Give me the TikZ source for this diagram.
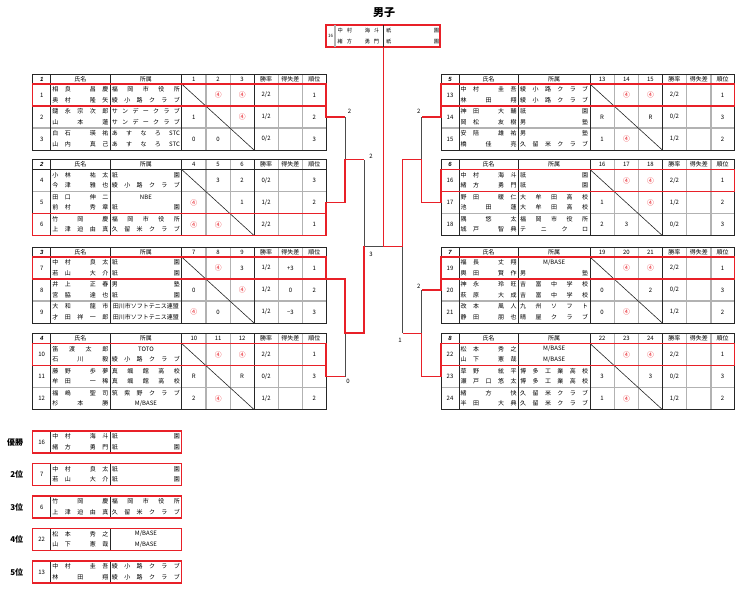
\documentclass[tikz,border=0pt]{standalone}
\usepackage{fontspec}
\setmainfont{Noto Sans CJK JP}
\newfontfamily\grpfont{Liberation Sans}
\usepackage{tikz}

\definecolor{wred}{RGB}{232,32,40}
\newcommand{\wn}{\textcolor{wred}{\fontsize{6.8}{7}\selectfont ④}}
\newcommand{\nm}[1]{\makebox[56pt][s]{#1}}
\newcommand{\af}[1]{\makebox[68pt][s]{#1}}
\newcommand{\ctr}[1]{\hfil#1\hfil}

\newcommand{\tbl}[4]{%
  \draw[sep] (0,32) -- (293.3,32) (0,54) -- (293.3,54);
  \draw[sep] (173.3,0) -- (173.3,76) (197.6,0) -- (197.6,76) (245.6,0) -- (245.6,76) (269.9,0) -- (269.9,76);
  \draw[rule] (0,10) -- (293.3,10) (18,0) -- (18,76) (77.3,0) -- (77.3,76) (149,0) -- (149,76) (221.3,0) -- (221.3,76);
  \draw[rule] (149,10) -- (221.3,76);
  \draw[frame] (0,0) rectangle (293.3,76);
  \node[txt] at (9,5) {\grpfont\bfseries\itshape #1};
  \node[txt] at (47.65,5) {氏名};
  \node[txt] at (113.15,5) {所属};
  \node[txt] at (161.15,5) {#2};
  \node[txt] at (185.45,5) {#3};
  \node[txt] at (209.45,5) {#4};
  \node[txt] at (233.45,5) {勝率};
  \node[txt] at (257.75,5) {得失差};
  \node[txt] at (281.6,5) {順位};
}
\newcommand{\plr}[6]{%
  \node[txt] at (9,{#1+11}) {#2};
  \node[txt,anchor=west] at (19.5,{#1+5.5}) {\nm{#3}};
  \node[txt,anchor=west] at (19.5,{#1+16}) {\nm{#4}};
  \node[txt,anchor=west] at (79,{#1+5.5}) {\af{#5}};
  \node[txt,anchor=west] at (79,{#1+16}) {\af{#6}};
}
\newcommand{\res}[7]{%
  \node[txt] at (161.15,{#1+11}) {#2};
  \node[txt] at (185.45,{#1+11}) {#3};
  \node[txt] at (209.45,{#1+11}) {#4};
  \node[txt] at (233.45,{#1+11}) {#5};
  \node[txt] at (257.75,{#1+11}) {#6};
  \node[txt] at (281.6,{#1+11}) {#7};
}
\newcommand{\fin}[7]{%
  \begin{scope}[shift={(32.7,#1)}]
    \draw[rule] (18,0) -- (18,22) (77.3,0) -- (77.3,22);
    \draw[win] (0,0) rectangle (149,22);
    \node[lbl] at (-6,11) {#2};
    \node[txt] at (9,11) {#3};
    \node[txt,anchor=west] at (19.5,5.5) {\nm{#4}};
    \node[txt,anchor=west] at (19.5,16) {\nm{#5}};
    \node[txt,anchor=west] at (79,5.5) {\af{#6}};
    \node[txt,anchor=west] at (79,16) {\af{#7}};
  \end{scope}
}

\begin{document}
\begin{tikzpicture}[x=1pt,y=-1pt,
    txt/.style={inner sep=0pt, font=\fontsize{6}{7}\selectfont},
    frame/.style={draw=black!85, line width=0.9pt},
    rule/.style={black!85, line width=0.6pt},
    sep/.style={black!30, line width=1.6pt},
    win/.style={draw=wred, line width=1.3pt},
    adv/.style={wred, line width=1.3pt},
    lost/.style={black!70, line width=0.7pt},
    lbl/.style={anchor=east, font=\fontsize{8}{9}\selectfont\bfseries},
    score/.style={inner sep=0pt, font=\fontsize{6}{7}\selectfont}]
\useasboundingbox (0,0) rectangle (740,600);

\node[font=\fontsize{11}{12}\selectfont\bfseries] (title) at (384,12.5) {男子};

\draw[win] (326,25) rectangle (440,47);
\draw[sep] (335,25) -- (335,47);
\draw[rule] (383.3,25) -- (383.3,47);
\node[inner sep=0pt, font=\fontsize{4.5}{5}\selectfont] at (330.5,36) {16};
\node[inner sep=0pt, anchor=west, font=\fontsize{5.2}{5.5}\selectfont] at (337.5,31) {\makebox[41.5pt][s]{中 村 　 海 斗}};
\node[inner sep=0pt, anchor=west, font=\fontsize{5.2}{5.5}\selectfont] at (337.5,41.5) {\makebox[41.5pt][s]{緒 方 　 勇 門}};
\node[inner sep=0pt, anchor=west, font=\fontsize{5.2}{5.5}\selectfont] at (385.8,31) {\makebox[53pt][s]{祇 園}};
\node[inner sep=0pt, anchor=west, font=\fontsize{5.2}{5.5}\selectfont] at (385.8,41.5) {\makebox[53pt][s]{祇 園}};

\begin{scope}[shift={(32.7,74)}]
  \tbl{1}{1}{2}{3}
  \plr{10}{1}{相 良 　 昌 慶}{奥 村 　 隆 矢}{福 岡 市 役 所}{綾 小 路 ク ラ ブ}
  \res{10}{}{\wn}{\wn}{2/2}{}{1}
  \plr{32}{2}{鑓 永 宗 次 郎}{山 本 蓮}{サ ン デ ー ク ラ ブ}{サ ン デ ー ク ラ ブ}
  \res{32}{1}{}{\wn}{1/2}{}{2}
  \plr{54}{3}{白 石 　 瑛 祐}{山 内 　 真 己}{あ す な ろ STC}{あ す な ろ STC}
  \res{54}{0}{0}{}{0/2}{}{3}
  \draw[win] (0,10) rectangle (293.3,32);
\end{scope}

\begin{scope}[shift={(32.7,159.5)}]
  \tbl{2}{4}{5}{6}
  \plr{10}{4}{小 林 　 祐 太}{今 津 　 雅 也}{祇 園}{綾 小 路 ク ラ ブ}
  \res{10}{}{3}{2}{0/2}{}{3}
  \plr{32}{5}{田 口 　 伸 二}{前 村 　 秀 章}{\ctr{NBE}}{祇 園}
  \res{32}{\wn}{}{1}{1/2}{}{2}
  \plr{54}{6}{竹 岡 慶}{上 津 迫 由 真}{福 岡 市 役 所}{久 留 米 ク ラ ブ}
  \res{54}{\wn}{\wn}{}{2/2}{}{1}
  \draw[win] (0,54) rectangle (293.3,76);
\end{scope}

\begin{scope}[shift={(32.7,247)}]
  \tbl{3}{7}{8}{9}
  \plr{10}{7}{中 村 　 良 太}{若 山 　 大 介}{祇 園}{祇 園}
  \res{10}{}{\wn}{3}{1/2}{+3}{1}
  \plr{32}{8}{井 上 　 正 春}{宮 脇 　 達 也}{男 塾}{祇 園}
  \res{32}{0}{}{\wn}{1/2}{0}{2}
  \plr{54}{9}{大 和 　 龍 市}{才 田 祥 一 郎}{\ctr{田川市ソフトテニス連盟}}{\ctr{田川市ソフトテニス連盟}}
  \res{54}{\wn}{0}{}{1/2}{−3}{3}
  \draw[win] (0,10) rectangle (293.3,32);
\end{scope}

\begin{scope}[shift={(32.7,333.5)}]
  \tbl{4}{10}{11}{12}
  \plr{10}{10}{笛 渡 太 郎}{石 川 毅}{\ctr{TOTO}}{綾 小 路 ク ラ ブ}
  \res{10}{}{\wn}{\wn}{2/2}{}{1}
  \plr{32}{11}{藤 野 　 歩 夢}{牟 田 　 一 稀}{真 颯 館 高 校}{真 颯 館 高 校}
  \res{32}{R}{}{R}{0/2}{}{3}
  \plr{54}{12}{福 嶋 　 聖 司}{杉 本 勝}{筑 紫 野 ク ラ ブ}{\ctr{M/BASE}}
  \res{54}{2}{\wn}{}{1/2}{}{2}
  \draw[win] (0,10) rectangle (293.3,32);
\end{scope}

\begin{scope}[shift={(441,74)}]
  \tbl{5}{13}{14}{15}
  \plr{10}{13}{中 村 　 圭 吾}{林 田 翔}{綾 小 路 ク ラ ブ}{綾 小 路 ク ラ ブ}
  \res{10}{}{\wn}{\wn}{2/2}{}{1}
  \plr{32}{14}{神 田 　 大 輔}{岡 松 　 友 樹}{祇 園}{男 塾}
  \res{32}{R}{}{R}{0/2}{}{3}
  \plr{54}{15}{安 陪 　 雄 祐}{橋 佳 亮}{男 塾}{久 留 米 ク ラ ブ}
  \res{54}{1}{\wn}{}{1/2}{}{2}
  \draw[win] (0,10) rectangle (293.3,32);
\end{scope}

\begin{scope}[shift={(441,159.5)}]
  \tbl{6}{16}{17}{18}
  \plr{10}{16}{中 村 　 海 斗}{緒 方 　 勇 門}{祇 園}{祇 園}
  \res{10}{}{\wn}{\wn}{2/2}{}{1}
  \plr{32}{17}{野 田 　 暖 仁}{池 田 蓮}{大 牟 田 高 校}{大 牟 田 高 校}
  \res{32}{1}{}{\wn}{1/2}{}{2}
  \plr{54}{18}{隅 悠 太}{城 戸 　 智 典}{福 岡 市 役 所}{テ ニ ク ロ}
  \res{54}{2}{3}{}{0/2}{}{3}
  \draw[win] (0,10) rectangle (293.3,32);
\end{scope}

\begin{scope}[shift={(441,247)}]
  \tbl{7}{19}{20}{21}
  \plr{10}{19}{福 長 　 丈 翔}{輿 田 　 賢 作}{\ctr{M/BASE}}{男 塾}
  \res{10}{}{\wn}{\wn}{2/2}{}{1}
  \plr{32}{20}{神 永 　 玲 旺}{萩 原 　 大 成}{吉 富 中 学 校}{吉 富 中 学 校}
  \res{32}{0}{}{2}{0/2}{}{3}
  \plr{54}{21}{改 本 　 風 人}{静 田 　 朋 也}{九 州 ソ フ ト}{晴 屋 ク ラ ブ}
  \res{54}{0}{\wn}{}{1/2}{}{2}
  \draw[win] (0,10) rectangle (293.3,32);
\end{scope}

\begin{scope}[shift={(441,333.5)}]
  \tbl{8}{22}{23}{24}
  \plr{10}{22}{松 本 　 秀 之}{山 下 　 憲 哉}{\ctr{M/BASE}}{\ctr{M/BASE}}
  \res{10}{}{\wn}{\wn}{2/2}{}{1}
  \plr{32}{23}{草 野 　 絃 平}{瀬 戸 口 悠 太}{博 多 工 業 高 校}{博 多 工 業 高 校}
  \res{32}{3}{}{3}{0/2}{}{3}
  \plr{54}{24}{緒 方 快}{半 田 　 大 典}{久 留 米 ク ラ ブ}{久 留 米 ク ラ ブ}
  \res{54}{1}{\wn}{}{1/2}{}{2}
  \draw[win] (0,10) rectangle (293.3,32);
\end{scope}

\coordinate (w1) at (326,106);   \coordinate (e1) at (326,117);
\coordinate (w2) at (326,213.5); \coordinate (e2) at (326,202.5);
\coordinate (e3) at (326,279);
\coordinate (w4) at (326,365.5); \coordinate (e4) at (326,376.5);
\coordinate (w5) at (441,106);   \coordinate (e5) at (441,117);
\coordinate (w6) at (441,191.5); \coordinate (e6) at (441,202.5);
\coordinate (w7) at (441,279);   \coordinate (e7) at (441,290);
\coordinate (w8) at (441,365.5); \coordinate (e8) at (441,376.5);
\coordinate (j12) at (345,159.75);   \coordinate (j34) at (345,333);
\coordinate (j56) at (421.7,159.75); \coordinate (j78) at (421.7,333.25);
\coordinate (jL) at (364,246.4);     \coordinate (jR) at (402.7,246.4);
\coordinate (mid) at (383.3,246.4);  \coordinate (top) at (383.3,47);

\draw[lost] (e1 -| j12) -- (j12);
\draw[lost] (j12 -| jL) -- (jL) -- (mid);
\draw[lost] (e4 -| j34) -- (j34);
\draw[lost] (e5 -| j56) -- (j56);
\draw[lost] (e7 -| j78) -- (j78);
\draw[lost] (j78 -| jR) -- (jR);

\draw[adv] (w1) -- (e1) -- (e1 -| j12);
\draw[adv] (w2) -- (e2) -| (j12) -- (j12 -| jL);
\draw[adv] (e3) -| (j34) -- (j34 -| jL) -- (jL);
\draw[adv] (w4) -- (e4) -- (e4 -| j34);
\draw[adv] (w5) -- (e5) -- (e5 -| j56);
\draw[adv] (w6) -- (e6) -| (j56) -- (j56 -| jR) -- (jR) -- (mid) -- (top);
\draw[adv] (w7) -- (e7) -- (e7 -| j78);
\draw[adv] (w8) -- (e8) -| (j78) -- (j78 -| jR);

\node[score] at (349.5,111) {2};
\node[score] at (371,156) {2};
\node[score] at (371,254) {3};
\node[score] at (348,381) {0};
\node[score] at (418.7,111.5) {2};
\node[score] at (418.7,286) {2};
\node[score] at (400,340) {1};

\fin{431}{優勝}{16}{中 村 　 海 斗}{緒 方 　 勇 門}{祇 園}{祇 園}
\fin{463.5}{2位}{7}{中 村 　 良 太}{若 山 　 大 介}{祇 園}{祇 園}
\fin{496}{3位}{6}{竹 岡 慶}{上 津 迫 由 真}{福 岡 市 役 所}{久 留 米 ク ラ ブ}
\fin{528.5}{4位}{22}{松 本 　 秀 之}{山 下 　 憲 哉}{\ctr{M/BASE}}{\ctr{M/BASE}}
\fin{561}{5位}{13}{中 村 　 圭 吾}{林 田 翔}{綾 小 路 ク ラ ブ}{綾 小 路 ク ラ ブ}
\end{tikzpicture}
\end{document}
